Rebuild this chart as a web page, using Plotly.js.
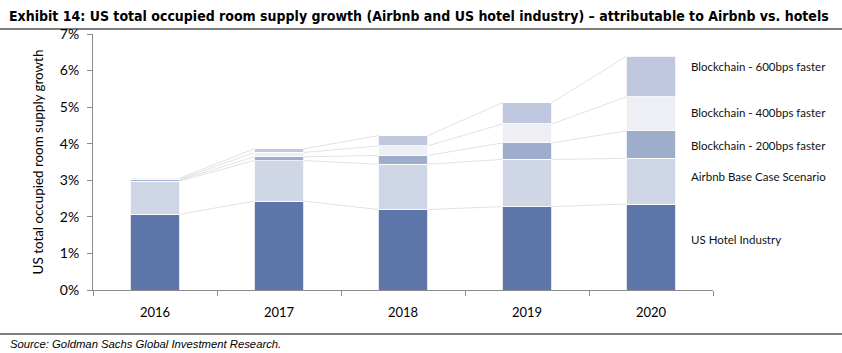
<!DOCTYPE html>
<html>
<head>
<meta charset="utf-8">
<script src="https://cdn.plot.ly/plotly-3.0.1.min.js"></script>
<style>html,body{margin:0;padding:0;background:#fff;}#chart{width:842px;height:353px;}</style>
</head>
<body>
<div id="chart"></div>
<script>
const years = ["2016", "2017", "2018", "2019", "2020"];
const hotel = [2.07, 2.43, 2.20, 2.28, 2.35];
const airbnb = [0.91, 1.11, 1.24, 1.29, 1.25];
const bc200 = [0.03, 0.10, 0.24, 0.45, 0.75];
const bc400 = [0.02, 0.12, 0.26, 0.52, 0.93];
const bc600 = [0.03, 0.10, 0.28, 0.58, 1.11];
const seriesNames = ["US Hotel Industry", "Airbnb Base Case Scenario", "Blockchain - 200bps faster", "Blockchain - 400bps faster", "Blockchain - 600bps faster"];
const yTicks = [0, 1, 2, 3, 4, 5, 6, 7];

const series = [hotel, airbnb, bc200, bc400, bc600];
const colors = ["#5d75a8", "#cfd6e6", "#9eadcc", "#eeeff5", "#bfc8de"];
const labelY = [1.39, 3.11, 3.96, 4.85, 6.12];
const xs = years.map((_, i) => i);
const barW = 0.4;

const traces = [];
series.forEach((s, k) => {
  traces.push({
    type: "bar", x: xs, y: s, name: seriesNames[k], width: barW,
    marker: {color: colors[k], line: {color: "#ffffff", width: 0.8}},
    hoverinfo: "skip", showlegend: false
  });
});
// connector lines between cumulative tops
const cum = [];
series.forEach((s, k) => {
  cum.push(s.map((v, i) => v + (k > 0 ? cum[k - 1][i] : 0)));
});
cum.forEach((c) => {
  const lx = [], ly = [];
  for (let i = 0; i < c.length - 1; i++) {
    lx.push(i + barW / 2, i + 1 - barW / 2, null);
    ly.push(c[i], c[i + 1], null);
  }
  traces.push({type: "scatter", mode: "lines", x: lx, y: ly, line: {color: "#e2e2e2", width: 1}, hoverinfo: "skip", showlegend: false});
});

const L = 93, R = 129, W = 842 - L - R;
const annotations = seriesNames.map((n, k) => ({
  text: n, xref: "paper", yref: "y", x: (689 - L) / W, y: labelY[k], xanchor: "left", yanchor: "middle",
  showarrow: false, font: {family: "Lato, 'Open Sans', sans-serif", size: 11.5, color: "#111"}
}));
annotations.push({
  text: "<b>Exhibit 14: US total occupied room supply growth (Airbnb and US hotel industry) – attributable to Airbnb vs. hotels</b>",
  xref: "paper", yref: "paper", x: (7 - L) / W, y: 1 + (34 - 16) / 256, xanchor: "left", yanchor: "middle",
  showarrow: false, font: {family: "'Liberation Sans Narrow', 'DejaVu Sans Condensed', sans-serif", size: 14, color: "#000"}
});
annotations.push({
  text: "<i>Source: Goldman Sachs Global Investment Research.</i>",
  xref: "paper", yref: "paper", x: (8 - L) / W, y: -(344 - 290) / 256, xanchor: "left", yanchor: "middle",
  showarrow: false, font: {family: "'Liberation Sans', Arial, sans-serif", size: 11.3, color: "#000"}
});

const layout = {
  width: 842, height: 353,
  margin: {l: L, r: R, t: 34, b: 63, pad: 0},
  barmode: "stack",
  paper_bgcolor: "#fff", plot_bgcolor: "#fff",
  xaxis: {
    range: [-0.5, 4.5], tickvals: xs, ticktext: years, ticks: "", showgrid: false, zeroline: false,
    showline: true, linecolor: "#8c8c8c", linewidth: 1, ticklabelstandoff: 10,
    tickfont: {family: "Lato, 'Open Sans', sans-serif", size: 13, color: "#000"},
    minor: {tick0: -0.5, dtick: 1, ticks: "outside", ticklen: 5, tickcolor: "#8c8c8c", showgrid: false}
  },
  yaxis: {
    range: [0, 7], tickvals: yTicks, ticktext: yTicks.map(v => v + "%"), showgrid: false, zeroline: false,
    showline: true, linecolor: "#8c8c8c", linewidth: 1, ticks: "outside", ticklen: 5, tickcolor: "#8c8c8c",
    ticklabelstandoff: 5,
    tickfont: {family: "Lato, 'Open Sans', sans-serif", size: 14, color: "#000"},
    title: {text: "US total occupied room supply growth", standoff: 13, font: {family: "Lato, 'Open Sans', sans-serif", size: 13.4, color: "#000"}}
  },
  annotations: annotations,
  shapes: [
    {type: "line", xref: "paper", yref: "paper", x0: -L / W, x1: (842 - L) / W, y0: 1 + (34 - 29) / 256, y1: 1 + (34 - 29) / 256, line: {color: "#000", width: 1.2}},
    {type: "line", xref: "paper", yref: "paper", x0: -L / W, x1: (842 - L) / W, y0: -(334 - 290) / 256, y1: -(334 - 290) / 256, line: {color: "#000", width: 1}}
  ]
};
Plotly.newPlot("chart", traces, layout, {staticPlot: true, displayModeBar: false});
</script>
</body>
</html>
